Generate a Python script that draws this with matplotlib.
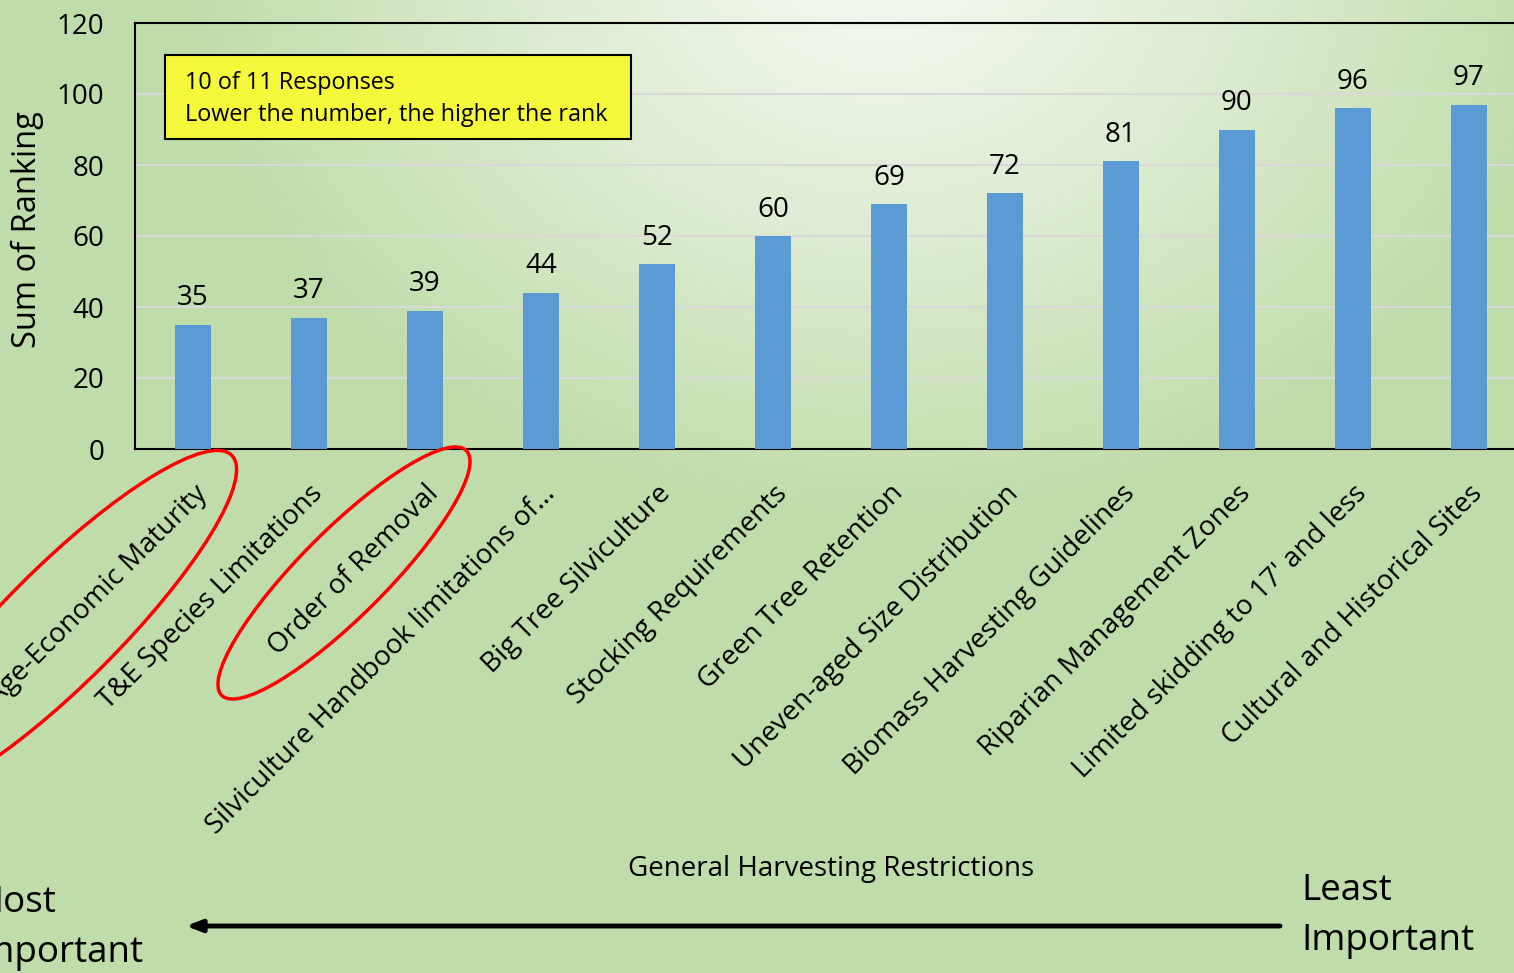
import numpy as np
import matplotlib
matplotlib.use('Agg')
import matplotlib.pyplot as plt
from matplotlib.patches import Ellipse, Rectangle

plt.rcParams['font.family'] = ['Open Sans', 'DejaVu Sans']

# data
categories = ['Age-Economic Maturity', 'T&E Species Limitations', 'Order of Removal',
              'Silviculture Handbook limitations of...', 'Big Tree Silviculture',
              'Stocking Requirements', 'Green Tree Retention', 'Uneven-aged Size Distribution',
              'Biomass Harvesting Guidelines', 'Riparian Management Zones',
              "Limited skidding to 17' and less", 'Cultural and Historical Sites']
values = [35, 37, 39, 44, 52, 60, 69, 72, 81, 90, 96, 97]
yticks = [0, 20, 40, 60, 80, 100, 120]

W, H = 1514, 973
fig = plt.figure(figsize=(W / 100, H / 100), dpi=100)

# gradient background
bg = fig.add_axes([0, 0, 1, 1], zorder=0)
xx, yy = np.meshgrid(np.arange(W), np.arange(H))
t = np.sqrt(((xx - 880) / 700.0) ** 2 + ((yy + 40) / 560.0) ** 2)
t = np.clip(t, 0, 1) ** 1.2
light = np.array([243, 248, 240]) / 255.0
dark = np.array([192, 220, 170]) / 255.0
img = light[None, None, :] * (1 - t[..., None]) + dark[None, None, :] * t[..., None]
bg.imshow(img, extent=[0, W, H, 0], aspect='auto')
bg.set_xlim(0, W)
bg.set_ylim(H, 0)
bg.axis('off')

# main chart
ax = fig.add_axes([135 / W, (H - 449) / H, 12 * 116 / W, 426 / H], zorder=2)
ax.patch.set_alpha(0)
x = np.arange(len(values))
bars = ax.bar(x, values, width=0.31, color='#5B9BD5', zorder=3)
for xi, v in zip(x, values):
    ax.text(xi, v + 3.5, str(v), ha='center', va='bottom', fontsize=20, color='black')

ax.set_xlim(-0.5, len(values) - 0.5)
ax.set_ylim(0, 120)
ax.set_yticks(yticks)
ax.set_yticklabels([str(v) for v in yticks], fontsize=20)
ax.set_xticks(x)
ax.set_xticklabels(categories, rotation=45, ha='right', va='top',
                   rotation_mode='anchor', fontsize=20)
ax.tick_params(axis='both', length=0)
ax.tick_params(axis='y', pad=22)
ax.tick_params(axis='x', pad=22)
ax.grid(axis='y', color='#D9D9D9', lw=1.5, zorder=1)
for side in ['left', 'top', 'bottom']:
    ax.spines[side].set_color('black')
    ax.spines[side].set_linewidth(1.5)
ax.spines['right'].set_visible(False)
ax.set_ylabel('Sum of Ranking', fontsize=23.5)
ax.yaxis.set_label_coords((44 - 135) / (12 * 116), 0.516)

# overlay in pixel coordinates
ov = fig.add_axes([0, 0, 1, 1], zorder=3)
ov.set_xlim(0, W)
ov.set_ylim(H, 0)
ov.axis('off')
ov.patch.set_alpha(0)

ov.add_patch(Rectangle((165, 55), 466, 84, facecolor='#F5F83A', edgecolor='black', lw=1.5))
ov.text(185, 99, '10 of 11 Responses\nLower the number, the higher the rank',
        fontsize=16.8, va='center', ha='left', linespacing=1.45)

ov.add_patch(Ellipse((62, 625), 480, 116, angle=-45, fill=False, edgecolor='red', lw=2.5))
ov.add_patch(Ellipse((344, 573), 346, 86, angle=-45, fill=False, edgecolor='red', lw=2.5))

ov.text(831, 869, 'General Harvesting Restrictions', fontsize=20, ha='center', va='center')
ov.annotate('', xy=(186, 926), xytext=(1280, 926),
            arrowprops=dict(arrowstyle='-|>,head_length=0.9,head_width=0.35',
                            lw=3.5, color='black', shrinkA=0, shrinkB=0))
ov.text(1301, 916, 'Least\nImportant', fontsize=26.5, ha='left', va='center', linespacing=1.5)
ov.text(-30, 928, 'Most\nImportant', fontsize=26.5, ha='left', va='center', linespacing=1.5)

fig.savefig('out.png', dpi=100)
